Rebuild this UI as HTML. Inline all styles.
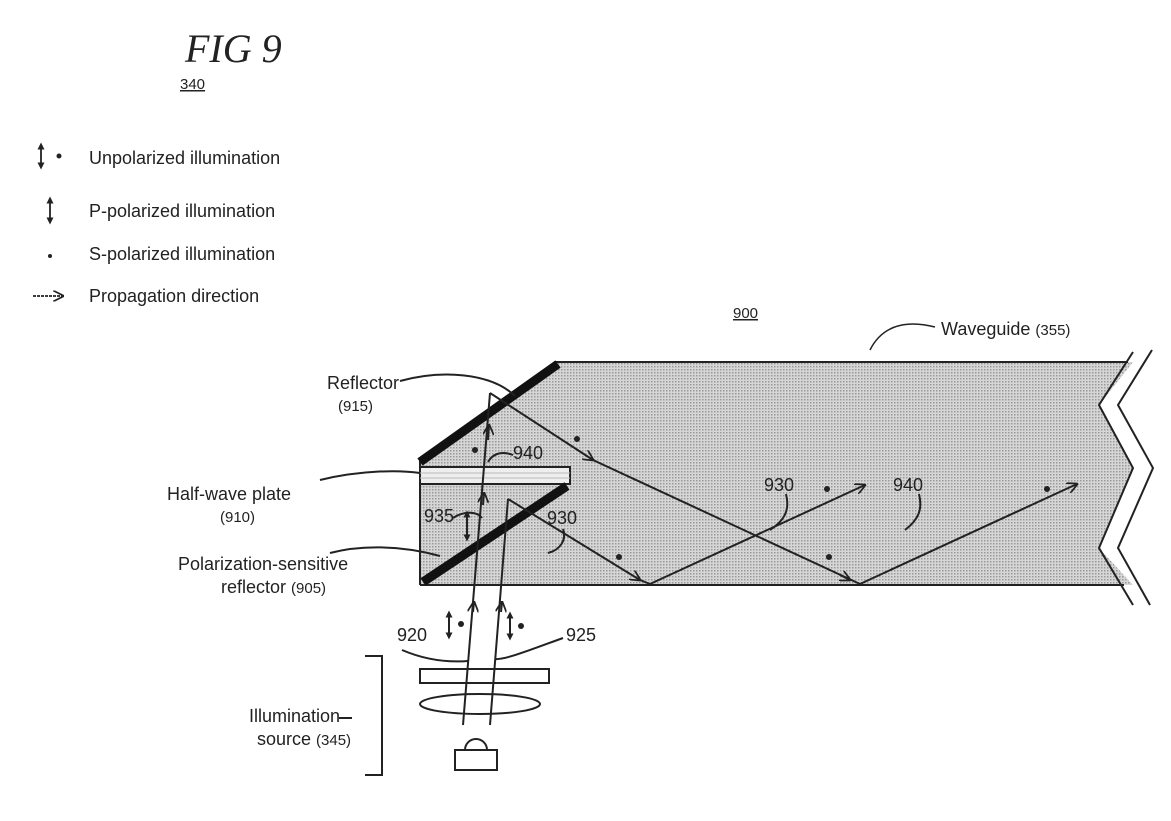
<!DOCTYPE html>
<html><head><style>
body{margin:0;background:#fff;width:1171px;height:816px;overflow:hidden}
text{font-family:"Liberation Sans",sans-serif;fill:#222}
</style></head><body>
<svg width="1171" height="816" viewBox="0 0 1171 816">
<defs>
<pattern id="dots" width="3" height="3" patternUnits="userSpaceOnUse"><rect width="3" height="3" fill="#d6d6d6"/><rect width="1.5" height="1.5" fill="#999"/></pattern>
<marker id="ah" viewBox="0 0 10 10" refX="9" refY="5" markerWidth="11" markerHeight="11" orient="auto" markerUnits="userSpaceOnUse"><path d="M0,0 L10,5 L0,10" fill="none" stroke="#222" stroke-width="1.6"/></marker>
<marker id="sm" viewBox="0 0 10 10" refX="5" refY="5" markerWidth="7" markerHeight="7" orient="auto-start-reverse" markerUnits="userSpaceOnUse"><path d="M0,0 L10,5 L0,10 z" fill="#222"/></marker>
</defs>
<text x="185" y="62" font-size="40" font-style="italic" style="font-family:'Liberation Serif',serif">FIG 9</text>
<text x="180" y="89" font-size="15" text-decoration="underline">340</text>
<g stroke="#222" stroke-width="1.8">
<line x1="41" y1="146" x2="41" y2="166" marker-start="url(#sm)" marker-end="url(#sm)"/>
<line x1="50" y1="200" x2="50" y2="221" marker-start="url(#sm)" marker-end="url(#sm)"/>
<line x1="33" y1="296" x2="63" y2="296" stroke-dasharray="3 1" marker-end="url(#ah)"/>
</g>
<circle cx="59" cy="156" r="2.5" fill="#222"/><circle cx="50" cy="256" r="2" fill="#222"/>
<g font-size="18"><text x="89" y="164">Unpolarized illumination</text><text x="89" y="217">P-polarized illumination</text><text x="89" y="260">S-polarized illumination</text><text x="89" y="302">Propagation direction</text></g>
<text x="733" y="318" font-size="15" text-decoration="underline">900</text>
<text x="941" y="335" font-size="18">Waveguide <tspan font-size="15">(355)</tspan></text>
<path d="M935,327 C900,318 880,330 870,350" fill="none" stroke="#222" stroke-width="1.5"/>
<path d="M555,362 L1133,362 L1099,405 L1133,468 L1099,548 L1133,585 L420,585 L420,458 Z" fill="url(#dots)"/>
<g stroke="#222" fill="none" stroke-width="2">
<line x1="555" y1="362" x2="1128" y2="362"/><line x1="420" y1="585" x2="1124" y2="585"/><line x1="420" y1="458" x2="420" y2="585"/>
<polyline points="1133,352 1099,405 1133,468 1099,548 1133,605"/>
<polyline points="1152,350 1118,405 1153,468 1118,548 1150,605"/>
</g>
<line x1="420" y1="462" x2="558" y2="364" stroke="#111" stroke-width="9"/>
<rect x="420" y="467" width="150" height="17" fill="#eee" stroke="#222" stroke-width="2"/>
<line x1="420" y1="473" x2="570" y2="473" stroke="#bbb"/><line x1="420" y1="478" x2="570" y2="478" stroke="#bbb"/>
<line x1="423" y1="582" x2="567" y2="486" stroke="#111" stroke-width="9"/>
<g stroke="#222" stroke-width="2" fill="none">
<line x1="463" y1="725" x2="490" y2="393"/>
<line x1="490" y1="725" x2="508" y2="499"/>
<line x1="490" y1="393" x2="593" y2="460" marker-end="url(#ah)"/><line x1="593" y1="460" x2="860" y2="584"/>
<line x1="860" y1="584" x2="1077" y2="484" marker-end="url(#ah)"/>
<line x1="508" y1="499" x2="640" y2="580" marker-end="url(#ah)"/><line x1="640" y1="580" x2="650" y2="584"/>
<line x1="650" y1="584" x2="865" y2="485" marker-end="url(#ah)"/>
<line x1="840" y1="575" x2="850" y2="580" marker-end="url(#ah)"/>
<line x1="488" y1="440" x2="489" y2="425" marker-end="url(#ah)"/>
<line x1="483" y1="505" x2="484" y2="493" marker-end="url(#ah)"/>
<line x1="473" y1="612" x2="474" y2="602" marker-end="url(#ah)"/>
<line x1="501" y1="612" x2="502" y2="602" marker-end="url(#ah)"/>
<line x1="467" y1="514" x2="467" y2="538" marker-start="url(#sm)" marker-end="url(#sm)"/>
<line x1="449" y1="614" x2="449" y2="636" marker-start="url(#sm)" marker-end="url(#sm)"/>
<line x1="510" y1="615" x2="510" y2="637" marker-start="url(#sm)" marker-end="url(#sm)"/>
<rect x="420" y="669" width="129" height="14"/>
<ellipse cx="480" cy="704" rx="60" ry="10"/>
<rect x="455" y="750" width="42" height="20"/><path d="M465,750 A11,11 0 0 1 487,750"/>
<path d="M365,656 L382,656 L382,775 L365,775"/>
<path d="M402,650 C430,662 455,662 468,661"/><path d="M563,638 C530,650 505,660 495,659"/>
<path d="M400,381 C440,370 490,372 515,396"/>
<path d="M320,480 C360,470 400,470 420,473"/><path d="M330,553 C360,545 400,545 440,556"/>
<path d="M513,455 C500,450 492,455 488,462"/><path d="M453,518 C465,510 478,512 482,518"/>
<path d="M563,529 C567,540 560,550 548,553"/><path d="M786,494 C790,510 785,520 770,530"/>
<path d="M919,494 C923,510 918,520 905,530"/>
<path d="M339,718 L352,718"/>
</g>
<g fill="#222"><circle cx="475" cy="450" r="3"/><circle cx="577" cy="439" r="3"/><circle cx="619" cy="557" r="3"/><circle cx="827" cy="489" r="3"/><circle cx="829" cy="557" r="3"/><circle cx="1047" cy="489" r="3"/><circle cx="461" cy="624" r="3"/><circle cx="521" cy="626" r="3"/></g>
<g font-size="18">
<text x="327" y="389">Reflector</text><text x="338" y="411" font-size="15">(915)</text>
<text x="167" y="500">Half-wave plate</text><text x="220" y="522" font-size="15">(910)</text>
<text x="178" y="570">Polarization-sensitive</text><text x="221" y="593">reflector <tspan font-size="15">(905)</tspan></text>
<text x="513" y="459">940</text><text x="424" y="522">935</text><text x="547" y="524">930</text>
<text x="764" y="491">930</text><text x="893" y="491">940</text>
<text x="397" y="641">920</text><text x="566" y="641">925</text>
<text x="249" y="722">Illumination</text><text x="257" y="745">source <tspan font-size="15">(345)</tspan></text>
</g>
</svg>
</body></html>
